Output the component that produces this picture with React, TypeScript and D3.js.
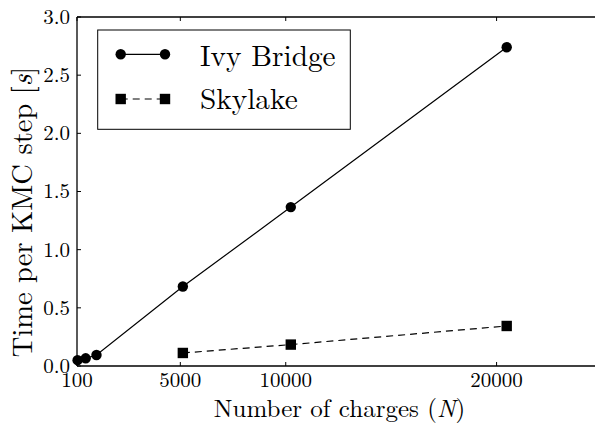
import React from 'react';
import * as d3 from 'd3';

const chargesIvy = [128, 512, 1024, 5120, 10240, 20480];
const timeIvy = [0.05, 0.066, 0.095, 0.683, 1.366, 2.74];
const chargesSky = [5120, 10240, 20480];
const timeSky = [0.112, 0.184, 0.344];
const xTicks = [100, 5000, 10000, 20000];
const yTicks = [0, 0.5, 1, 1.5, 2, 2.5, 3];
const seriesNames = ['Ivy Bridge', 'Skylake'];

const W = 595;
const H = 425;
const FONT = "'Latin Modern Roman', 'Liberation Serif', monospace";

export default function App() {
  const left = 77, right = 602, top = 17, bottom = 366;
  const x = d3.scaleLinear().domain([100, 25000]).range([left, right]);
  const y = d3.scaleLinear().domain([0, 3]).range([bottom, top]);
  const line = d3.line<[number, number]>().x(d => x(d[0])).y(d => y(d[1]));
  const ivy: [number, number][] = chargesIvy.map((c, i) => [c, timeIvy[i]]);
  const sky: [number, number][] = chargesSky.map((c, i) => [c, timeSky[i]]);
  const tl = 4;
  const ts = { fontFamily: FONT };
  return (
    <svg width={W} height={H} style={{ position: 'absolute', left: 0, top: 0, background: '#fff' }}>
      <rect x={0} y={0} width={W} height={H} fill="#fff" />
      <path d={line(ivy) || ''} fill="none" stroke="#000" strokeWidth={1.2} />
      <path d={line(sky) || ''} fill="none" stroke="#000" strokeWidth={1.2} strokeDasharray="7,5" />
      {ivy.map((d, i) => (
        <circle key={'i' + i} cx={x(d[0])} cy={y(d[1])} r={5.2} fill="#000" />
      ))}
      {sky.map((d, i) => (
        <rect key={'s' + i} x={x(d[0]) - 5.2} y={y(d[1]) - 5.2} width={10.4} height={10.4} fill="#000" />
      ))}
      <line x1={left} x2={left} y1={top} y2={bottom} stroke="#000" strokeWidth={1.3} />
      <line x1={left} x2={right} y1={bottom} y2={bottom} stroke="#000" strokeWidth={1.3} />
      <line x1={left} x2={right} y1={top} y2={top} stroke="#000" strokeWidth={1.3} />
      <line x1={right} x2={right} y1={top} y2={bottom} stroke="#000" strokeWidth={1.3} />
      {xTicks.map(t => (
        <g key={'xt' + t}>
          <line x1={x(t)} x2={x(t)} y1={bottom} y2={bottom - tl} stroke="#000" strokeWidth={1} />
          <line x1={x(t)} x2={x(t)} y1={top} y2={top + tl} stroke="#000" strokeWidth={1} />
          <text x={x(t)} y={bottom + 21} textAnchor="middle" fontSize={21} style={ts}>{String(t)}</text>
        </g>
      ))}
      {yTicks.map(t => (
        <g key={'yt' + t}>
          <line x1={left} x2={left + tl} y1={y(t)} y2={y(t)} stroke="#000" strokeWidth={1} />
          <line x1={right} x2={right - tl} y1={y(t)} y2={y(t)} stroke="#000" strokeWidth={1} />
          <text x={left - 7} y={y(t)} dy="0.33em" textAnchor="end" fontSize={21} style={ts}>{t.toFixed(1)}</text>
        </g>
      ))}
      <text x={(left + right) / 2} y={417} textAnchor="middle" fontSize={25} style={ts}>
        Number of charges (<tspan fontStyle="italic">N</tspan>)
      </text>
      <text transform={`translate(32,212) rotate(-90)`} textAnchor="middle" fontSize={28.5} style={ts}>
        Time per KMC step [<tspan fontStyle="italic">s</tspan>]
      </text>
      <rect x={97.7} y={30} width={252.6} height={99.3} fill="#fff" stroke="#000" strokeWidth={1} />
      <line x1={120.7} x2={165} y1={54.3} y2={54.3} stroke="#000" strokeWidth={1.2} />
      <circle cx={120.7} cy={54.3} r={5.2} fill="#000" />
      <circle cx={165} cy={54.3} r={5.2} fill="#000" />
      <text x={200} y={65.7} fontSize={29.3} style={ts}>{seriesNames[0]}</text>
      <line x1={120.7} x2={165} y1={99} y2={99} stroke="#000" strokeWidth={1.2} strokeDasharray="7,5" />
      <rect x={115.5} y={93.8} width={10.4} height={10.4} fill="#000" />
      <rect x={159.8} y={93.8} width={10.4} height={10.4} fill="#000" />
      <text x={200} y={109} fontSize={29.3} style={ts}>{seriesNames[1]}</text>
    </svg>
  );
}
